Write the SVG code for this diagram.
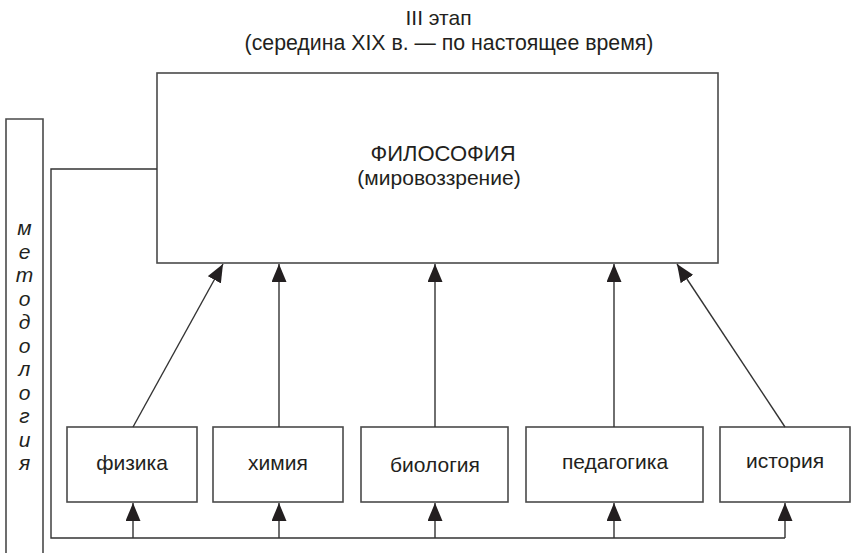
<svg xmlns="http://www.w3.org/2000/svg" width="853" height="553" viewBox="0 0 853 553">
  <defs>
    <marker id="arrow" viewBox="0 0 18 15" refX="18" refY="7.5" markerWidth="18" markerHeight="15" markerUnits="userSpaceOnUse" orient="auto">
      <path d="M0,0 L18,7.5 L0,15 Z" fill="#231f20"/>
    </marker>
  </defs>
  <style>
    text { font-family: "Liberation Sans", Arial, sans-serif; font-size: 21px; fill: #231f20; }
    .box { fill: #ffffff; stroke: #4a4a4a; stroke-width: 1.6; }
    .conn { fill: none; stroke: #333333; stroke-width: 1.4; }
    .arr { fill: none; stroke: #333333; stroke-width: 1.4; marker-end: url(#arrow); }
    .vert { font-style: italic; font-size: 21px; }
  </style>
  <rect width="853" height="553" fill="#ffffff"/>

  <g id="title">
    <text x="438.5" y="25" text-anchor="middle">III этап</text>
    <text x="449" y="50" text-anchor="middle" style="font-size:21.3px">(середина XIX в. — по настоящее время)</text>
  </g>

  <g id="methodology">
    <path class="box" d="M6,553 V119 H43 V553" fill="none"/>
    <g text-anchor="middle">
      <text class="vert" x="24.5" y="235">м</text>
      <text class="vert" x="24.5" y="258.5">е</text>
      <text class="vert" x="24.5" y="282">т</text>
      <text class="vert" x="24.5" y="305.5">о</text>
      <text class="vert" x="24.5" y="329">д</text>
      <text class="vert" x="24.5" y="352.5">о</text>
      <text class="vert" x="24.5" y="376">л</text>
      <text class="vert" x="24.5" y="399.5">о</text>
      <text class="vert" x="24.5" y="423">г</text>
      <text class="vert" x="24.5" y="446.5">и</text>
      <text class="vert" x="24.5" y="470">я</text>
    </g>
  </g>

  <g id="philosophy">
    <rect class="box" x="157" y="73" width="561" height="190"/>
    <text x="443" y="161" text-anchor="middle" style="font-size:22px">ФИЛОСОФИЯ</text>
    <text x="439" y="185" text-anchor="middle">(мировоззрение)</text>
  </g>

  <g id="physics">
    <rect class="box" x="67" y="427" width="130" height="75"/>
    <text x="132" y="470" text-anchor="middle">физика</text>
  </g>
  <g id="chemistry">
    <rect class="box" x="213" y="427" width="130" height="75"/>
    <text x="278" y="470" text-anchor="middle">химия</text>
  </g>
  <g id="biology">
    <rect class="box" x="361" y="427" width="147" height="75"/>
    <text x="435" y="472" text-anchor="middle">биология</text>
  </g>
  <g id="pedagogy">
    <rect class="box" x="526" y="427" width="177" height="75"/>
    <text x="615" y="469" text-anchor="middle">педагогика</text>
  </g>
  <g id="history">
    <rect class="box" x="720" y="427" width="130" height="75"/>
    <text x="785" y="468" text-anchor="middle">история</text>
  </g>

  <g id="connectors">
    <line class="arr" x1="133" y1="427" x2="223" y2="264"/>
    <line class="arr" x1="279" y1="427" x2="279" y2="264"/>
    <line class="arr" x1="435" y1="427" x2="435" y2="264"/>
    <line class="arr" x1="614" y1="427" x2="614" y2="264"/>
    <line class="arr" x1="785" y1="427" x2="677" y2="264"/>

    <polyline class="conn" points="157,169 51,169 51,538 785,538"/>
    <line class="arr" x1="133" y1="538" x2="133" y2="503"/>
    <line class="arr" x1="279" y1="538" x2="279" y2="503"/>
    <line class="arr" x1="435" y1="538" x2="435" y2="503"/>
    <line class="arr" x1="614" y1="538" x2="614" y2="503"/>
    <line class="arr" x1="785" y1="538" x2="785" y2="503"/>
  </g>
</svg>
